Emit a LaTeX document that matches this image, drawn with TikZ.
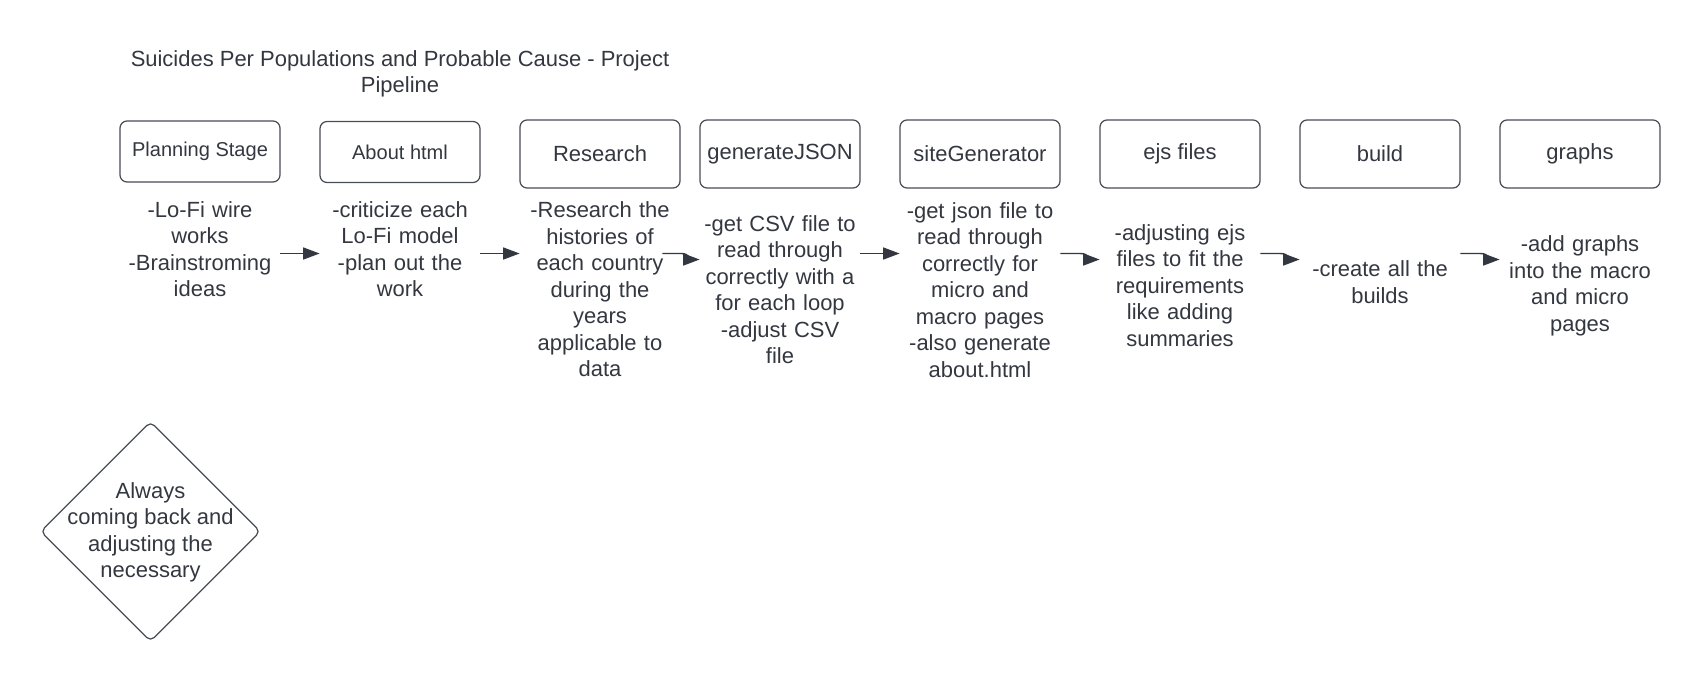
\documentclass[tikz,border=0pt]{standalone}
\usepackage{fontspec}
\setmainfont{Liberation Sans}
\usetikzlibrary{arrows.meta,shapes.geometric}
\definecolor{ink}{RGB}{51,55,64}
\definecolor{edge}{RGB}{72,76,84}

\begin{document}
\begin{tikzpicture}[
                stage/.style={rectangle, draw=edge, line width=0.7pt, rounded corners=4pt,
                minimum width=3.2cm, minimum height=1.36cm, inner xsep=2pt, align=center,
                text=ink, font=\fontsize{12.5}{15.1}\selectfont},
                smallstage/.style={stage, minimum height=1.22cm, font=\fontsize{11.4}{14}\selectfont},
                desc/.style={text width=3.2cm, inner sep=0pt, align=center, text=ink,
                font=\fontsize{12.5}{15.1}\selectfont},
                arrow/.style={-{Triangle[length=3.3mm,width=2.4mm]}, draw=ink, line width=0.8pt}
            ]
        \useasboundingbox (0,0) rectangle (34,-13.64);

        \node[align=center, text=ink, font=\fontsize{12.5}{15.1}\selectfont] (title) at (8,-1.48)
            {Suicides Per Populations and Probable Cause - Project\\Pipeline};

        % stages
        \node[smallstage] (plan)     at (4,-3.03)    {Planning Stage};
        \node[smallstage] (about)    at (8,-3.04)    {About html};
        \node[stage]      (research) at (12,-3.08)   {Research};
        \node[stage]      (gen)      at (15.6,-3.08) {generateJSON};
        \node[stage]      (site)     at (19.6,-3.08) {siteGenerator};
        \node[stage]      (ejs)      at (23.6,-3.08) {ejs files};
        \node[stage]      (build)    at (27.6,-3.08) {build};
        \node[stage]      (graphs)   at (31.6,-3.08) {graphs};

        % what happens in each stage
        \node[desc] (plantxt)     at (4,-4.98)    {-Lo-Fi wire\\works\\-Brainstroming\\ideas};
        \node[desc] (abouttxt)    at (8,-4.98)    {-criticize each\\Lo-Fi model\\-plan out the\\work};
        \node[desc] (researchtxt) at (12,-5.79)   {-Research the\\histories of\\each country\\during the\\years\\applicable to\\data};
        \node[desc] (gentxt)      at (15.6,-5.79) {-get CSV file to\\read through\\correctly with a\\for each loop\\-adjust CSV\\file};
        \node[desc] (sitetxt)     at (19.6,-5.80) {-get json file to\\read through\\correctly for\\micro and\\macro pages\\-also generate\\about.html};
        \node[desc] (ejstxt)      at (23.6,-5.71) {-adjusting ejs\\files to fit the\\requirements\\like adding\\summaries};
        \node[desc] (buildtxt)    at (27.6,-5.64) {-create all the\\builds};
        \node[desc] (graphstxt)   at (31.6,-5.72) {-add graphs\\into the macro\\and micro\\pages};

        \node[diamond, draw=edge, line width=0.7pt, rounded corners=3pt, minimum width=4.4cm,
            minimum height=4.4cm, inner sep=0pt] (loop) at (3.01,-10.63) {};
        \node[align=center, text=ink, font=\fontsize{12.5}{15.1}\selectfont] (looptxt) at (3.01,-10.65)
            {Always\\coming back and\\adjusting the\\necessary};

        \coordinate (row)    at (0,-5.07);
        \coordinate (rowlow) at (0,-5.19);

        \draw[arrow] (plantxt.east |- row)  -- (abouttxt.west |- row);
        \draw[arrow] (abouttxt.east |- row) -- (researchtxt.west |- row);
        \draw[arrow] ([xshift=-0.36cm]researchtxt.east |- row) -- ++(0.38,0) to[out=0,in=180] (gentxt.west |- rowlow);
        \draw[arrow] (gentxt.east |- row)   -- (sitetxt.west |- row);
        \draw[arrow] (sitetxt.east |- row)  -- ++(0.4,0) to[out=0,in=180] (ejstxt.west |- rowlow);
        \draw[arrow] (ejstxt.east |- row)   -- ++(0.4,0) to[out=0,in=180] (buildtxt.west |- rowlow);
        \draw[arrow] (buildtxt.east |- row) -- ++(0.4,0) to[out=0,in=180] (graphstxt.west |- rowlow);
            \end{tikzpicture}
\end{document}
